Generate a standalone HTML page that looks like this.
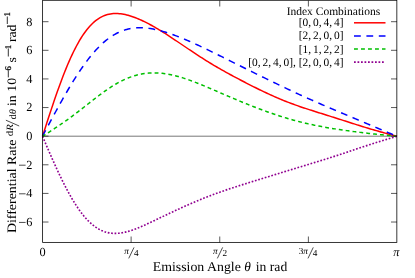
<!DOCTYPE html>
<html><head><meta charset="utf-8"><style>
html,body{margin:0;padding:0;background:#fff}
svg{display:block;will-change:transform;opacity:0.999}
text{text-rendering:geometricPrecision;font-family:"Liberation Serif",serif;fill:#000}
</style></head><body>
<svg width="415" height="278" viewBox="0 0 415 278">
<rect width="415" height="278" fill="#fff"/>
<path d="M42.5 136.2H397.0" stroke="#777" stroke-width="1" fill="none"/>
<g fill="none" stroke-width="1.5" stroke-linejoin="round">
<path d="M42.50 136.30 L43.98 131.72 L45.45 127.15 L46.93 122.60 L48.41 118.07 L49.89 113.57 L51.36 109.12 L52.84 104.71 L54.32 100.36 L55.79 96.07 L57.27 91.86 L58.75 87.72 L60.22 83.66 L61.70 79.70 L63.18 75.83 L64.66 72.05 L66.13 68.39 L67.61 64.83 L69.09 61.39 L70.56 58.06 L72.04 54.86 L73.52 51.78 L75.00 48.82 L76.47 45.99 L77.95 43.28 L79.43 40.71 L80.90 38.26 L82.38 35.94 L83.86 33.75 L85.34 31.69 L86.81 29.75 L88.29 27.94 L89.77 26.25 L91.24 24.69 L92.72 23.24 L94.20 21.90 L95.68 20.68 L97.15 19.57 L98.63 18.57 L100.11 17.66 L101.58 16.86 L103.06 16.15 L104.54 15.54 L106.01 15.01 L107.49 14.57 L108.97 14.21 L110.45 13.93 L111.92 13.72 L113.40 13.58 L114.88 13.51 L116.35 13.50 L117.83 13.55 L119.31 13.65 L120.79 13.82 L122.26 14.03 L123.74 14.28 L125.22 14.59 L126.69 14.93 L128.17 15.32 L129.65 15.75 L131.12 16.21 L132.60 16.70 L134.08 17.23 L135.56 17.78 L137.03 18.37 L138.51 18.98 L139.99 19.62 L141.46 20.28 L142.94 20.97 L144.42 21.68 L145.90 22.41 L147.37 23.16 L148.85 23.93 L150.33 24.72 L151.80 25.53 L153.28 26.35 L154.76 27.19 L156.24 28.05 L157.71 28.92 L159.19 29.81 L160.67 30.71 L162.14 31.62 L163.62 32.54 L165.10 33.48 L166.58 34.42 L168.05 35.38 L169.53 36.34 L171.01 37.31 L172.48 38.29 L173.96 39.27 L175.44 40.26 L176.91 41.25 L178.39 42.25 L179.87 43.25 L181.35 44.25 L182.82 45.25 L184.30 46.25 L185.78 47.25 L187.25 48.25 L188.73 49.25 L190.21 50.24 L191.69 51.23 L193.16 52.21 L194.64 53.19 L196.12 54.16 L197.59 55.13 L199.07 56.09 L200.55 57.04 L202.02 57.99 L203.50 58.93 L204.98 59.86 L206.46 60.78 L207.93 61.69 L209.41 62.60 L210.89 63.50 L212.36 64.39 L213.84 65.27 L215.32 66.14 L216.80 67.00 L218.27 67.86 L219.75 68.71 L221.23 69.55 L222.70 70.39 L224.18 71.22 L225.66 72.04 L227.14 72.86 L228.61 73.67 L230.09 74.48 L231.57 75.28 L233.04 76.07 L234.52 76.86 L236.00 77.65 L237.48 78.43 L238.95 79.21 L240.43 79.99 L241.91 80.76 L243.38 81.53 L244.86 82.29 L246.34 83.05 L247.81 83.81 L249.29 84.56 L250.77 85.31 L252.25 86.06 L253.72 86.80 L255.20 87.54 L256.68 88.27 L258.15 89.00 L259.63 89.72 L261.11 90.44 L262.59 91.15 L264.06 91.86 L265.54 92.55 L267.02 93.25 L268.49 93.93 L269.97 94.61 L271.45 95.28 L272.92 95.94 L274.40 96.60 L275.88 97.24 L277.36 97.88 L278.83 98.51 L280.31 99.13 L281.79 99.74 L283.26 100.35 L284.74 100.94 L286.22 101.53 L287.70 102.10 L289.17 102.67 L290.65 103.23 L292.13 103.78 L293.60 104.32 L295.08 104.86 L296.56 105.39 L298.04 105.91 L299.51 106.42 L300.99 106.93 L302.47 107.43 L303.94 107.92 L305.42 108.41 L306.90 108.90 L308.38 109.38 L309.85 109.86 L311.33 110.33 L312.81 110.80 L314.28 111.27 L315.76 111.74 L317.24 112.20 L318.71 112.67 L320.19 113.13 L321.67 113.59 L323.15 114.05 L324.62 114.52 L326.10 114.98 L327.58 115.44 L329.05 115.91 L330.53 116.37 L332.01 116.84 L333.49 117.31 L334.96 117.77 L336.44 118.24 L337.92 118.72 L339.39 119.19 L340.87 119.66 L342.35 120.13 L343.82 120.61 L345.30 121.08 L346.78 121.55 L348.26 122.03 L349.73 122.50 L351.21 122.97 L352.69 123.44 L354.16 123.91 L355.64 124.38 L357.12 124.85 L358.60 125.31 L360.07 125.78 L361.55 126.24 L363.03 126.69 L364.50 127.15 L365.98 127.60 L367.46 128.05 L368.94 128.49 L370.41 128.93 L371.89 129.37 L373.37 129.80 L374.84 130.23 L376.32 130.65 L377.80 131.07 L379.28 131.49 L380.75 131.91 L382.23 132.32 L383.71 132.72 L385.18 133.13 L386.66 133.53 L388.14 133.93 L389.61 134.33 L391.09 134.73 L392.57 135.12 L394.05 135.51 L395.52 135.91 L397.00 136.30" stroke="#ff0000"/>
<path d="M42.50 136.30 L43.98 133.52 L45.45 130.74 L46.93 127.96 L48.41 125.19 L49.89 122.43 L51.36 119.67 L52.84 116.93 L54.32 114.20 L55.79 111.49 L57.27 108.79 L58.75 106.10 L60.22 103.44 L61.70 100.80 L63.18 98.19 L64.66 95.60 L66.13 93.04 L67.61 90.50 L69.09 88.00 L70.56 85.54 L72.04 83.10 L73.52 80.71 L75.00 78.35 L76.47 76.03 L77.95 73.76 L79.43 71.53 L80.90 69.34 L82.38 67.20 L83.86 65.11 L85.34 63.07 L86.81 61.08 L88.29 59.15 L89.77 57.27 L91.24 55.44 L92.72 53.67 L94.20 51.96 L95.68 50.31 L97.15 48.71 L98.63 47.17 L100.11 45.70 L101.58 44.28 L103.06 42.93 L104.54 41.64 L106.01 40.41 L107.49 39.24 L108.97 38.13 L110.45 37.08 L111.92 36.10 L113.40 35.17 L114.88 34.30 L116.35 33.49 L117.83 32.75 L119.31 32.05 L120.79 31.42 L122.26 30.84 L123.74 30.31 L125.22 29.84 L126.69 29.42 L128.17 29.05 L129.65 28.73 L131.12 28.46 L132.60 28.23 L134.08 28.05 L135.56 27.91 L137.03 27.81 L138.51 27.76 L139.99 27.74 L141.46 27.76 L142.94 27.82 L144.42 27.91 L145.90 28.04 L147.37 28.20 L148.85 28.38 L150.33 28.60 L151.80 28.84 L153.28 29.11 L154.76 29.41 L156.24 29.73 L157.71 30.07 L159.19 30.44 L160.67 30.82 L162.14 31.23 L163.62 31.65 L165.10 32.09 L166.58 32.55 L168.05 33.02 L169.53 33.51 L171.01 34.02 L172.48 34.54 L173.96 35.07 L175.44 35.61 L176.91 36.17 L178.39 36.74 L179.87 37.32 L181.35 37.91 L182.82 38.51 L184.30 39.12 L185.78 39.74 L187.25 40.37 L188.73 41.01 L190.21 41.65 L191.69 42.30 L193.16 42.96 L194.64 43.63 L196.12 44.31 L197.59 44.99 L199.07 45.67 L200.55 46.36 L202.02 47.06 L203.50 47.76 L204.98 48.47 L206.46 49.18 L207.93 49.89 L209.41 50.61 L210.89 51.33 L212.36 52.06 L213.84 52.78 L215.32 53.51 L216.80 54.24 L218.27 54.98 L219.75 55.71 L221.23 56.45 L222.70 57.18 L224.18 57.92 L225.66 58.66 L227.14 59.40 L228.61 60.14 L230.09 60.87 L231.57 61.61 L233.04 62.35 L234.52 63.09 L236.00 63.83 L237.48 64.56 L238.95 65.30 L240.43 66.03 L241.91 66.77 L243.38 67.50 L244.86 68.24 L246.34 68.97 L247.81 69.70 L249.29 70.43 L250.77 71.16 L252.25 71.89 L253.72 72.62 L255.20 73.35 L256.68 74.07 L258.15 74.80 L259.63 75.52 L261.11 76.25 L262.59 76.97 L264.06 77.69 L265.54 78.41 L267.02 79.13 L268.49 79.85 L269.97 80.57 L271.45 81.29 L272.92 82.00 L274.40 82.72 L275.88 83.43 L277.36 84.14 L278.83 84.85 L280.31 85.56 L281.79 86.26 L283.26 86.97 L284.74 87.67 L286.22 88.37 L287.70 89.07 L289.17 89.77 L290.65 90.46 L292.13 91.15 L293.60 91.84 L295.08 92.53 L296.56 93.21 L298.04 93.90 L299.51 94.57 L300.99 95.25 L302.47 95.92 L303.94 96.60 L305.42 97.26 L306.90 97.93 L308.38 98.59 L309.85 99.25 L311.33 99.91 L312.81 100.56 L314.28 101.21 L315.76 101.86 L317.24 102.51 L318.71 103.15 L320.19 103.80 L321.67 104.44 L323.15 105.08 L324.62 105.71 L326.10 106.35 L327.58 106.98 L329.05 107.61 L330.53 108.24 L332.01 108.87 L333.49 109.50 L334.96 110.13 L336.44 110.75 L337.92 111.38 L339.39 112.00 L340.87 112.63 L342.35 113.25 L343.82 113.88 L345.30 114.50 L346.78 115.12 L348.26 115.75 L349.73 116.37 L351.21 116.99 L352.69 117.62 L354.16 118.24 L355.64 118.86 L357.12 119.48 L358.60 120.11 L360.07 120.73 L361.55 121.35 L363.03 121.98 L364.50 122.60 L365.98 123.22 L367.46 123.85 L368.94 124.47 L370.41 125.09 L371.89 125.72 L373.37 126.34 L374.84 126.96 L376.32 127.59 L377.80 128.21 L379.28 128.83 L380.75 129.46 L382.23 130.08 L383.71 130.70 L385.18 131.32 L386.66 131.95 L388.14 132.57 L389.61 133.19 L391.09 133.81 L392.57 134.43 L394.05 135.06 L395.52 135.68 L397.00 136.30" stroke="#0000ff" stroke-dasharray="6.8 5.6"/>
<path d="M42.50 136.30 L43.98 135.36 L45.45 134.42 L46.93 133.48 L48.41 132.54 L49.89 131.59 L51.36 130.64 L52.84 129.68 L54.32 128.71 L55.79 127.73 L57.27 126.75 L58.75 125.75 L60.22 124.75 L61.70 123.73 L63.18 122.71 L64.66 121.67 L66.13 120.62 L67.61 119.56 L69.09 118.48 L70.56 117.40 L72.04 116.31 L73.52 115.20 L75.00 114.09 L76.47 112.96 L77.95 111.83 L79.43 110.69 L80.90 109.54 L82.38 108.39 L83.86 107.23 L85.34 106.07 L86.81 104.91 L88.29 103.75 L89.77 102.59 L91.24 101.44 L92.72 100.28 L94.20 99.14 L95.68 98.00 L97.15 96.87 L98.63 95.75 L100.11 94.65 L101.58 93.56 L103.06 92.48 L104.54 91.42 L106.01 90.38 L107.49 89.36 L108.97 88.37 L110.45 87.39 L111.92 86.45 L113.40 85.52 L114.88 84.63 L116.35 83.76 L117.83 82.92 L119.31 82.11 L120.79 81.34 L122.26 80.59 L123.74 79.88 L125.22 79.20 L126.69 78.56 L128.17 77.94 L129.65 77.37 L131.12 76.83 L132.60 76.32 L134.08 75.85 L135.56 75.41 L137.03 75.01 L138.51 74.65 L139.99 74.32 L141.46 74.02 L142.94 73.76 L144.42 73.54 L145.90 73.34 L147.37 73.19 L148.85 73.06 L150.33 72.97 L151.80 72.91 L153.28 72.88 L154.76 72.88 L156.24 72.91 L157.71 72.97 L159.19 73.07 L160.67 73.18 L162.14 73.33 L163.62 73.51 L165.10 73.71 L166.58 73.93 L168.05 74.18 L169.53 74.46 L171.01 74.76 L172.48 75.08 L173.96 75.42 L175.44 75.78 L176.91 76.17 L178.39 76.57 L179.87 76.99 L181.35 77.43 L182.82 77.88 L184.30 78.36 L185.78 78.84 L187.25 79.34 L188.73 79.86 L190.21 80.39 L191.69 80.93 L193.16 81.48 L194.64 82.05 L196.12 82.62 L197.59 83.20 L199.07 83.79 L200.55 84.39 L202.02 85.00 L203.50 85.61 L204.98 86.22 L206.46 86.85 L207.93 87.47 L209.41 88.11 L210.89 88.74 L212.36 89.38 L213.84 90.01 L215.32 90.65 L216.80 91.30 L218.27 91.94 L219.75 92.58 L221.23 93.22 L222.70 93.86 L224.18 94.50 L225.66 95.14 L227.14 95.78 L228.61 96.41 L230.09 97.05 L231.57 97.68 L233.04 98.31 L234.52 98.93 L236.00 99.55 L237.48 100.17 L238.95 100.78 L240.43 101.40 L241.91 102.00 L243.38 102.61 L244.86 103.21 L246.34 103.80 L247.81 104.39 L249.29 104.98 L250.77 105.57 L252.25 106.14 L253.72 106.72 L255.20 107.29 L256.68 107.85 L258.15 108.41 L259.63 108.97 L261.11 109.52 L262.59 110.07 L264.06 110.61 L265.54 111.15 L267.02 111.68 L268.49 112.20 L269.97 112.72 L271.45 113.24 L272.92 113.74 L274.40 114.25 L275.88 114.74 L277.36 115.23 L278.83 115.71 L280.31 116.19 L281.79 116.66 L283.26 117.12 L284.74 117.58 L286.22 118.03 L287.70 118.47 L289.17 118.91 L290.65 119.33 L292.13 119.75 L293.60 120.17 L295.08 120.57 L296.56 120.97 L298.04 121.36 L299.51 121.74 L300.99 122.11 L302.47 122.48 L303.94 122.84 L305.42 123.19 L306.90 123.53 L308.38 123.87 L309.85 124.20 L311.33 124.52 L312.81 124.84 L314.28 125.15 L315.76 125.45 L317.24 125.75 L318.71 126.04 L320.19 126.32 L321.67 126.60 L323.15 126.87 L324.62 127.14 L326.10 127.40 L327.58 127.66 L329.05 127.91 L330.53 128.16 L332.01 128.40 L333.49 128.64 L334.96 128.87 L336.44 129.11 L337.92 129.33 L339.39 129.56 L340.87 129.78 L342.35 129.99 L343.82 130.21 L345.30 130.42 L346.78 130.63 L348.26 130.83 L349.73 131.03 L351.21 131.23 L352.69 131.43 L354.16 131.62 L355.64 131.82 L357.12 132.01 L358.60 132.19 L360.07 132.38 L361.55 132.56 L363.03 132.74 L364.50 132.91 L365.98 133.09 L367.46 133.26 L368.94 133.43 L370.41 133.59 L371.89 133.76 L373.37 133.92 L374.84 134.08 L376.32 134.24 L377.80 134.40 L379.28 134.55 L380.75 134.70 L382.23 134.85 L383.71 135.00 L385.18 135.15 L386.66 135.30 L388.14 135.44 L389.61 135.59 L391.09 135.73 L392.57 135.87 L394.05 136.02 L395.52 136.16 L397.00 136.30" stroke="#00c000" stroke-dasharray="3.85 3.065" stroke-dashoffset="0.4"/>
<path d="M42.50 136.30 L43.98 139.75 L45.45 143.19 L46.93 146.62 L48.41 150.03 L49.89 153.43 L51.36 156.80 L52.84 160.14 L54.32 163.44 L55.79 166.70 L57.27 169.92 L58.75 173.09 L60.22 176.20 L61.70 179.26 L63.18 182.26 L64.66 185.19 L66.13 188.05 L67.61 190.84 L69.09 193.55 L70.56 196.18 L72.04 198.73 L73.52 201.20 L75.00 203.58 L76.47 205.87 L77.95 208.08 L79.43 210.18 L80.90 212.20 L82.38 214.12 L83.86 215.95 L85.34 217.68 L86.81 219.32 L88.29 220.86 L89.77 222.30 L91.24 223.65 L92.72 224.90 L94.20 226.06 L95.68 227.13 L97.15 228.11 L98.63 229.00 L100.11 229.79 L101.58 230.51 L103.06 231.13 L104.54 231.68 L106.01 232.14 L107.49 232.53 L108.97 232.85 L110.45 233.09 L111.92 233.26 L113.40 233.36 L114.88 233.40 L116.35 233.38 L117.83 233.31 L119.31 233.17 L120.79 232.99 L122.26 232.76 L123.74 232.48 L125.22 232.15 L126.69 231.79 L128.17 231.39 L129.65 230.95 L131.12 230.48 L132.60 229.98 L134.08 229.45 L135.56 228.90 L137.03 228.33 L138.51 227.74 L139.99 227.12 L141.46 226.50 L142.94 225.85 L144.42 225.20 L145.90 224.53 L147.37 223.85 L148.85 223.17 L150.33 222.48 L151.80 221.78 L153.28 221.08 L154.76 220.38 L156.24 219.67 L157.71 218.97 L159.19 218.26 L160.67 217.55 L162.14 216.84 L163.62 216.13 L165.10 215.43 L166.58 214.73 L168.05 214.02 L169.53 213.32 L171.01 212.63 L172.48 211.94 L173.96 211.25 L175.44 210.56 L176.91 209.88 L178.39 209.20 L179.87 208.52 L181.35 207.85 L182.82 207.18 L184.30 206.52 L185.78 205.86 L187.25 205.21 L188.73 204.56 L190.21 203.92 L191.69 203.28 L193.16 202.64 L194.64 202.01 L196.12 201.39 L197.59 200.77 L199.07 200.16 L200.55 199.55 L202.02 198.95 L203.50 198.35 L204.98 197.76 L206.46 197.18 L207.93 196.60 L209.41 196.03 L210.89 195.46 L212.36 194.90 L213.84 194.35 L215.32 193.80 L216.80 193.26 L218.27 192.73 L219.75 192.20 L221.23 191.67 L222.70 191.16 L224.18 190.64 L225.66 190.14 L227.14 189.64 L228.61 189.14 L230.09 188.65 L231.57 188.16 L233.04 187.68 L234.52 187.20 L236.00 186.73 L237.48 186.25 L238.95 185.79 L240.43 185.32 L241.91 184.86 L243.38 184.39 L244.86 183.94 L246.34 183.48 L247.81 183.02 L249.29 182.57 L250.77 182.11 L252.25 181.66 L253.72 181.21 L255.20 180.75 L256.68 180.30 L258.15 179.85 L259.63 179.39 L261.11 178.94 L262.59 178.49 L264.06 178.03 L265.54 177.58 L267.02 177.12 L268.49 176.67 L269.97 176.21 L271.45 175.76 L272.92 175.30 L274.40 174.84 L275.88 174.39 L277.36 173.93 L278.83 173.47 L280.31 173.02 L281.79 172.56 L283.26 172.10 L284.74 171.65 L286.22 171.19 L287.70 170.74 L289.17 170.29 L290.65 169.83 L292.13 169.38 L293.60 168.93 L295.08 168.48 L296.56 168.03 L298.04 167.58 L299.51 167.13 L300.99 166.68 L302.47 166.23 L303.94 165.78 L305.42 165.34 L306.90 164.89 L308.38 164.44 L309.85 163.99 L311.33 163.54 L312.81 163.09 L314.28 162.64 L315.76 162.19 L317.24 161.74 L318.71 161.28 L320.19 160.83 L321.67 160.37 L323.15 159.91 L324.62 159.45 L326.10 158.99 L327.58 158.52 L329.05 158.05 L330.53 157.58 L332.01 157.11 L333.49 156.63 L334.96 156.15 L336.44 155.67 L337.92 155.19 L339.39 154.70 L340.87 154.22 L342.35 153.73 L343.82 153.24 L345.30 152.74 L346.78 152.25 L348.26 151.76 L349.73 151.26 L351.21 150.76 L352.69 150.27 L354.16 149.77 L355.64 149.28 L357.12 148.78 L358.60 148.29 L360.07 147.80 L361.55 147.31 L363.03 146.82 L364.50 146.33 L365.98 145.85 L367.46 145.36 L368.94 144.89 L370.41 144.41 L371.89 143.94 L373.37 143.47 L374.84 143.00 L376.32 142.53 L377.80 142.07 L379.28 141.61 L380.75 141.16 L382.23 140.71 L383.71 140.26 L385.18 139.81 L386.66 139.37 L388.14 138.93 L389.61 138.48 L391.09 138.05 L392.57 137.61 L394.05 137.17 L395.52 136.74 L397.00 136.30" stroke="#900090" stroke-width="1.65" stroke-dasharray="1.71 1.71"/>
<path d="M354 22.8H385.5" stroke="#ff0000"/>
<path d="M354 36H385.5" stroke="#0000ff" stroke-dasharray="6.8 5.6"/>
<path d="M354 49.0H385.5" stroke="#00c000" stroke-dasharray="3.9 3.1"/>
<path d="M354 62.15H385.5" stroke="#900090" stroke-width="1.7" stroke-dasharray="1.75 1.75"/>
</g>
<g stroke="#000" stroke-width="0.65" fill="none"><path d="M42.5 222.03h6M397.0 222.03h-6"/><path d="M42.5 193.41h6M397.0 193.41h-6"/><path d="M42.5 164.79h6M397.0 164.79h-6"/><path d="M42.5 136.17h6M397.0 136.17h-6"/><path d="M42.5 107.55h6M397.0 107.55h-6"/><path d="M42.5 78.93h6M397.0 78.93h-6"/><path d="M42.5 50.31h6M397.0 50.31h-6"/><path d="M42.5 21.69h6M397.0 21.69h-6"/><path d="M131.12 242.5v-6M131.12 0.5v6"/><path d="M219.75 242.5v-6M219.75 0.5v6"/><path d="M308.38 242.5v-6M308.38 0.5v6"/></g>
<rect x="42.62" y="0.3" width="354.23" height="242.07999999999998" fill="none" stroke="#000" stroke-width="0.78"/>
<g><g font-size="12.3"><text x="32.4" y="225.93" text-anchor="end">6</text><path d="M19 222.43h6.6" stroke="#000" stroke-width="0.7"/><text x="32.4" y="197.31" text-anchor="end">4</text><path d="M19 193.81h6.6" stroke="#000" stroke-width="0.7"/><text x="32.4" y="168.69" text-anchor="end">2</text><path d="M19 165.19h6.6" stroke="#000" stroke-width="0.7"/><text x="32.4" y="140.07" text-anchor="end">0</text><text x="32.4" y="111.45" text-anchor="end">2</text><text x="32.4" y="82.83" text-anchor="end">4</text><text x="32.4" y="54.21" text-anchor="end">6</text><text x="32.4" y="25.59" text-anchor="end">8</text><text x="42.5" y="256.3" text-anchor="middle">0</text><text x="124.33" y="254.1" font-size="9.2"><tspan font-style="italic">π</tspan></text><path d="M128.72 258.4L134.03 247.4" stroke="#000" stroke-width="0.7"/><text x="133.88" y="255.8" font-size="9.2">4</text><text x="212.95" y="254.1" font-size="9.2"><tspan font-style="italic">π</tspan></text><path d="M217.35 258.4L222.65 247.4" stroke="#000" stroke-width="0.7"/><text x="222.50" y="255.8" font-size="9.2">2</text><text x="298.68" y="254.1" font-size="9.2">3<tspan font-style="italic">π</tspan></text><path d="M307.98 258.4L313.28 247.4" stroke="#000" stroke-width="0.7"/><text x="312.68" y="255.8" font-size="9.2">4</text><text x="396.3" y="256" text-anchor="middle" font-style="italic">π</text></g>
<g font-size="11.4" text-anchor="end" word-spacing="-0.9">
<text x="380.25" y="14.5" word-spacing="0" font-size="11.5">Index Combinations</text>
<text x="343.5" y="26">[0, 0, 4, 4]</text>
<text x="343.5" y="39.3">[2, 2, 0, 0]</text>
<text x="343.5" y="52.5">[1, 1, 2, 2]</text>
<text x="343.5" y="65.7">[0, 2, 4, 0],<tspan dx="1.0"> </tspan>[2, 0, 0, 4]</text>
</g>
<g font-size="13.4"><text transform="scale(1.0345 1)" x="147.61" y="271.2">Emission Angle</text><text x="244.2" y="271.2" font-style="italic">θ</text><text transform="scale(1.02 1)" x="250.78" y="271.2">in rad</text></g></g>
<g transform="translate(15.7 0) rotate(-90)"><text transform="scale(1.078 1)" x="-216.23" y="0.00" font-size="12.91" >Differential Rate</text><text transform="scale(1.13 1)" x="-120.62" y="-3.10" font-size="9.6" >d<tspan font-style="italic">R</tspan></text><path d="M-126.00 3.50L-120.20 -9.80" stroke="#000" stroke-width="0.7"/><text transform="scale(1.1 1)" x="-108.73" y="0.30" font-size="9.6" >d<tspan font-style="italic">θ</tspan></text><text transform="scale(1.078 1)" x="-98.33" y="0.00" font-size="12.80" >in</text><text transform="scale(1.078 1)" x="-85.06" y="0.00" font-size="12.80" >10</text><path d="M-77.40 -7.40H-70.50" stroke="#000" stroke-width="0.8"/><text transform="scale(1 1)" x="-70.40" y="-5.00" font-size="8.8" stroke="#000" stroke-width="0.25">6</text><text transform="scale(1.078 1)" x="-57.88" y="0.00" font-size="12.80" >s</text><path d="M-56.50 -7.40H-48.40" stroke="#000" stroke-width="0.8"/><text transform="scale(1 1)" x="-49.25" y="-5.00" font-size="8.8" stroke="#000" stroke-width="0.25">1</text><text transform="scale(1.078 1)" x="-39.05" y="0.00" font-size="12.80" >rad</text><path d="M-24.00 -8.40H-16.50" stroke="#000" stroke-width="0.8"/><text transform="scale(1 1)" x="-16.50" y="-5.80" font-size="8.8" stroke="#000" stroke-width="0.25">1</text></g>
</svg>
</body></html>
